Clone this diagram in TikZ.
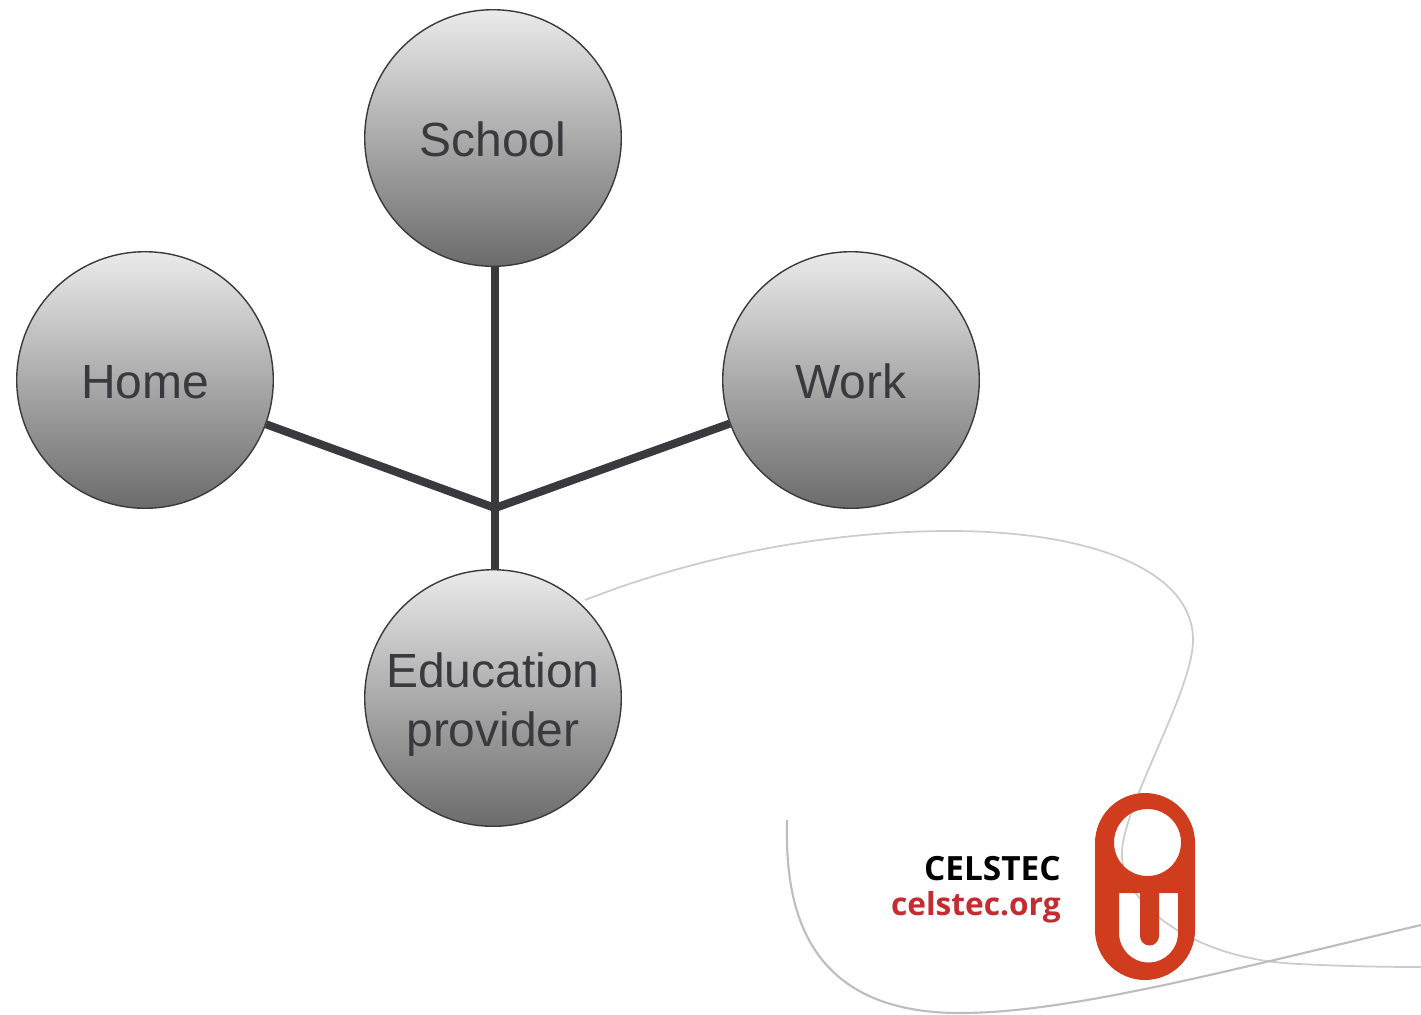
\documentclass[tikz,border=0pt]{standalone}
\usepackage{fontspec}
\setmainfont{Liberation Sans}
\newfontfamily\logofont{Open Sans}
\usetikzlibrary{positioning}

\definecolor{ink}{HTML}{3A3A3E}
\definecolor{oured}{HTML}{D03C1E}
\definecolor{orgred}{HTML}{C52B30}

\begin{document}
\begin{tikzpicture}[
    x=0.2mm,y=-0.2mm,
    place/.style={circle,draw=ink,line width=0.8pt,top color=black!8,bottom color=black!58,
        text=ink,minimum size=146pt,inner sep=0pt,align=center,
        font=\fontsize{27.3}{33.5}\selectfont},
    link/.style={ink,line width=4.6pt},
    swoosh/.style={black!20,line width=1pt},
    swooshdark/.style={black!26,line width=1.2pt},
    logotext/.style={anchor=east,inner sep=0pt,font=\logofont\bfseries\fontsize{18}{20}\selectfont}
]
\useasboundingbox (0,0) rectangle (1421,1014);

% =========================
% BACKGROUND CURVES
% =========================
\draw[swoosh] (585,600) .. controls (700,555) and (830,531) .. (950,531)
    .. controls (1090,531) and (1193,570) .. (1193,640)
    .. controls (1193,690) and (1126,800) .. (1122,850)
    .. controls (1118,900) and (1190,960) .. (1300,964)
    .. controls (1340,966) and (1380,967) .. (1421,967);
\draw[swooshdark] (787,820) .. controls (785,900) and (800,1013) .. (960,1013)
    .. controls (1070,1013) and (1230,970) .. (1421,925);

% =========================
% LOGO
% =========================
\fill[oured,even odd rule]
    (1095,843) arc (180:360:50) -- (1195,930) arc (0:180:50) -- cycle
    (1147.5,842.5) ellipse (33.5 and 33.5)
    (1119,893) -- (1140,893) -- (1140,936) arc (180:0:9.5) -- (1159,893) -- (1178,893)
    -- (1178,933) arc (0:180:29.5) -- cycle;

\node[logotext,font=\logofont\bfseries\fontsize{19}{20}\selectfont] (celstec) at (1061,869) {CELSTEC};
\node[logotext,orgred] (celstecorg) at (1061,907) {celstec.org};

% =========================
% PLACES
% =========================
\node[place] (school) at (493,138) {\rule{0pt}{21.5pt}School};
\node[place] (home) at (145,380) {\rule{0pt}{21.5pt}Home};
\node[place] (work) at (851,380) {\rule{0pt}{21.5pt}Work};
\node[place] (provider) at (493,698) {\rule{0pt}{27pt}Education\\provider};

\coordinate (hub) at (495,508);

\draw[link] (school.south -| hub) -- (hub);
\draw[link] (provider.north -| hub) -- (hub);
\draw[link] (home) -- (hub) -- (work);
\end{tikzpicture}
\end{document}
